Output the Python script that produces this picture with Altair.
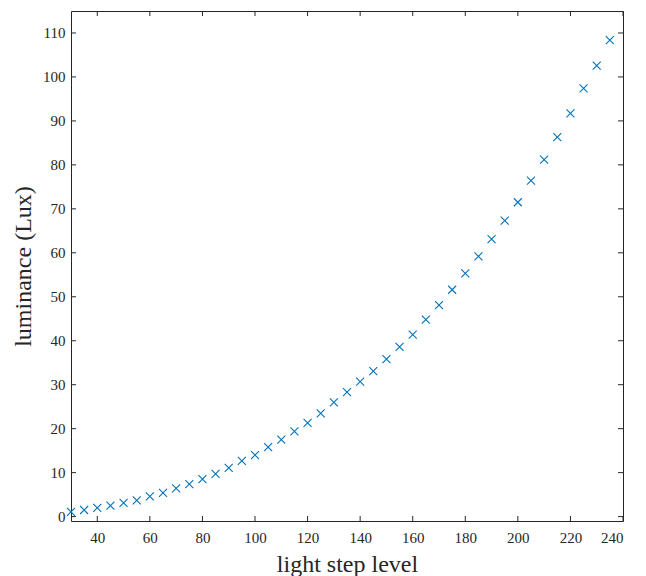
import altair as alt
import pandas as pd

step = list(range(30, 240, 5))
lux = [1.1, 1.5, 2.0, 2.5, 3.1, 3.7, 4.6, 5.4, 6.4, 7.4,
       8.5, 9.7, 11.1, 12.7, 14.0, 15.8, 17.5, 19.4, 21.3, 23.5,
       26.0, 28.3, 30.7, 33.1, 35.8, 38.6, 41.4, 44.8, 48.1, 51.6,
       55.3, 59.2, 63.1, 67.3, 71.5, 76.4, 81.2, 86.3, 91.7, 97.4,
       102.6, 108.4]
x_ticks = [40, 60, 80, 100, 120, 140, 160, 180, 200, 220, 240]
y_ticks = [0, 10, 20, 30, 40, 50, 60, 70, 80, 90, 100, 110]

W, H = 552, 510
FONT = "Liberation Serif"
INK = "#262626"
TL = 5

df = pd.DataFrame({"step": step, "lux": lux})
xt = pd.DataFrame({"v": x_ticks})
yt = pd.DataFrame({"v": y_ticks})

xscale = alt.Scale(domain=[30, 240], nice=False, zero=False)
yscale = alt.Scale(domain=[-1, 115], nice=False, zero=False)
xaxis = alt.Axis(values=x_ticks, title="light step level")
yaxis = alt.Axis(values=y_ticks, title="luminance (Lux)")

points = alt.Chart(df).mark_point(
    shape="M-1,-1L1,1M-1,1L1,-1", size=64, strokeWidth=1.1,
    color="#0072BD", filled=False, opacity=1
).encode(
    x=alt.X("step:Q", scale=xscale, axis=xaxis),
    y=alt.Y("lux:Q", scale=yscale, axis=yaxis),
)

xb = alt.Chart(xt).mark_rule(color=INK, strokeWidth=1).encode(
    x=alt.X("v:Q", scale=xscale, axis=xaxis),
    y=alt.value(H), y2=alt.value(H - TL))
xtop = alt.Chart(xt).mark_rule(color=INK, strokeWidth=1).encode(
    x=alt.X("v:Q", scale=xscale, axis=xaxis),
    y=alt.value(0), y2=alt.value(TL))
yl = alt.Chart(yt).mark_rule(color=INK, strokeWidth=1).encode(
    y=alt.Y("v:Q", scale=yscale, axis=yaxis),
    x=alt.value(0), x2=alt.value(TL))
yr = alt.Chart(yt).mark_rule(color=INK, strokeWidth=1).encode(
    y=alt.Y("v:Q", scale=yscale, axis=yaxis),
    x=alt.value(W), x2=alt.value(W - TL))

chart = alt.layer(points, xb, xtop, yl, yr).properties(
    width=W, height=H,
    autosize=alt.AutoSizeParams(type="none"),
    padding={"left": 63, "top": 3, "right": 15, "bottom": 56},
).configure_view(
    stroke=INK, strokeWidth=1
).configure_axis(
    domain=False, ticks=False, grid=False,
    labelFont=FONT, labelFontSize=15, labelColor=INK,
    titleFont=FONT, titleFontSize=24, titleColor=INK, titleFontWeight="normal",
    labelPadding=6,
).configure_axisX(
    labelPadding=9,
    titlePadding=7,
).configure_axisY(
    titlePadding=7,
)

chart.save("out.html", embed_options={"renderer": "svg", "actions": False})
